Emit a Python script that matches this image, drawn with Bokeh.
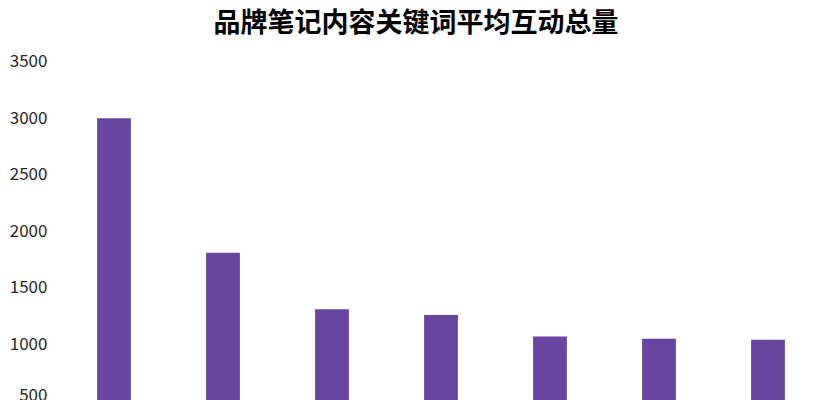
from bokeh.plotting import figure
from bokeh.models import FixedTicker, Range1d, Title
from bokeh.embed import file_html
from bokeh.resources import INLINE

# Data (category names are not visible in the reference; x axis is cut off)
categories = ["关键词1", "关键词2", "关键词3", "关键词4", "关键词5", "关键词6", "关键词7"]
values = [2990, 1800, 1300, 1250, 1060, 1040, 1030]
y_ticks = [500, 1000, 1500, 2000, 2500, 3000, 3500]
title_text = "品牌笔记内容关键词平均互动总量"

p = figure(
    x_range=categories,
    y_range=Range1d(493, 3500),
    width=832,
    height=400,
    output_backend="svg",
    toolbar_location=None,
    min_border_left=59,
    min_border_right=10,
    min_border_top=60,
    min_border_bottom=0,
)
p.title = None
t = Title(text=title_text, align="left", offset=154, vertical_align="top", standoff=0,
          padding=dict(left=0, right=0, top=0, bottom=19),
          text_font="Noto Sans CJK SC", text_font_size="27px", text_font_style="bold",
          text_color="#000000")
p.add_layout(t, "above")

p.vbar(x=categories, top=values, bottom=0, width=0.31, fill_color="#68469F", line_color=None)

p.outline_line_color = None
p.xgrid.visible = False
p.ygrid.visible = False
p.xaxis.visible = False

p.yaxis.ticker = FixedTicker(ticks=y_ticks)
p.yaxis.axis_line_color = None
p.yaxis.major_tick_line_color = None
p.yaxis.minor_tick_line_color = None
p.yaxis.major_tick_out = 0
p.yaxis.major_tick_in = 0
p.yaxis.major_label_standoff = 12
p.yaxis.major_label_text_font = "Noto Sans CJK SC"
p.yaxis.major_label_text_font_size = "17px"
p.yaxis.major_label_text_color = "#262626"

open("out.html", "w").write(file_html(p, INLINE))
